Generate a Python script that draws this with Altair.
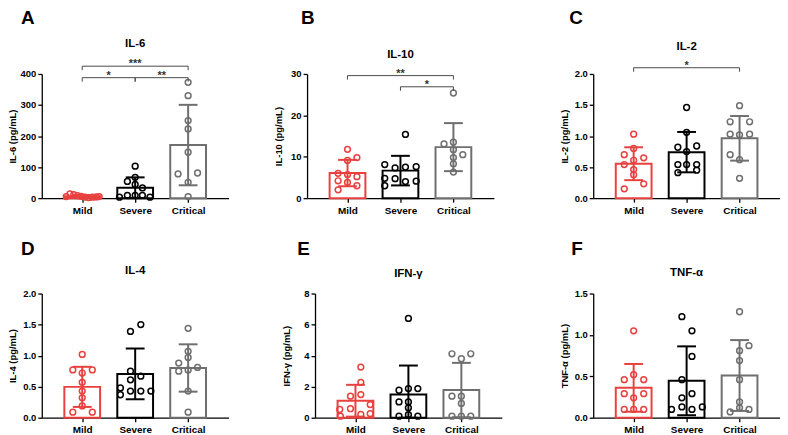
import altair as alt
import pandas as pd

GROUPS = ["Mild", "Severe", "Critical"]
COLORS = ["#E8413F", "#000000", "#6F6F6F"]

# ---- data (pg/mL), one list per group; *_JIT = horizontal dot column index ----
IL6_MILD = [5, 14, 11, 8, 6, 3, 2, 3, 4, 5]
IL6_MILD_JIT = [-1.7, -1.3, -0.9, -0.5, -0.1, 0.3, 0.7, 1.1, 1.5, 1.8]
IL6_SEV = [103, 54, 67, 44, 33, 3, 9, 9, 9, 3]
IL6_SEV_JIT = [0, -0.83, 0, 0, 0.77, -1.67, -0.83, 0, 0.77, 1.57]
IL6_CRIT = [373, 330, 250, 223, 148, 78, 81, 51, 5]
IL6_CRIT_JIT = [0, 0, 0, 0, 0, -1.07, 1.0, 0, 0]

IL10_MILD = [11.8, 9.8, 9.1, 6.0, 5.7, 4.2, 3.8, 5.2, 3.0, 2.0]
IL10_MILD_JIT = [0, 1, 0, -1, 0, -1, 0, 1, 1, -1]
IL10_SEV = [15.4, 8.1, 7.3, 7.5, 7.6, 4.8, 4.7, 3.0, 4.0, 4.1]
IL10_SEV_JIT = [0.53, -1.67, -0.57, 0.53, 1.67, -1.67, -0.57, -1.67, 0.53, 1.67]
IL10_CRIT = [25.4, 13.1, 13.5, 11.7, 9.8, 10.5, 8.3, 6.3]
IL10_CRIT_JIT = [0, -1, 0, 0, 0, 1, 0, 0]

IL2_MILD = [1.03, 0.80, 0.70, 0.65, 0.54, 0.61, 0.46, 0.375, 0.23, 0.15]
IL2_MILD_JIT = [0, 0, -1, 1.07, -1, 0, 0, 0, 1.07, -1]
IL2_SEV = [1.46, 1.06, 0.82, 0.84, 0.75, 0.54, 0.54, 0.54, 0.41, 0.45]
IL2_SEV_JIT = [0, 0, -0.93, 1.07, 0, -0.93, 0, 1.07, -0.93, 1.07]
IL2_CRIT = [1.49, 1.23, 1.23, 1.03, 1.02, 1.03, 0.70, 0.62, 0.32]
IL2_CRIT_JIT = [0, -1, 1.07, -1, 0, 1.07, -1, 0, 0]

IL4_MILD = [1.02, 0.77, 0.77, 0.72, 0.57, 0.43, 0.32, 0.19, 0.09, 0.09]
IL4_MILD_JIT = [0, -1, 1.07, 0, 0, 0, 0, 0, -1, 1.07]
IL4_SEV = [1.5, 1.39, 0.75, 0.61, 0.67, 0.48, 0.37, 0.43, 0.43, 0.43]
IL4_SEV_JIT = [0.6, -0.5, -0.5, -0.5, 0.6, -1.57, -1.57, -0.5, 0.6, 1.67]
IL4_CRIT = [1.44, 1.07, 0.97, 0.88, 0.77, 0.75, 0.81, 0.43, 0.09]
IL4_CRIT_JIT = [0, 0, 0, -1, 0, -1, 1, 0, 0]

IFN_MILD = [3.26, 2.28, 1.39, 1.49, 0.53, 0.58, 0.85, 0.1, 0.21, 0.26]
IFN_MILD_JIT = [0.57, 0.57, -0.53, 0.57, -1.67, -0.53, 1.57, -1.6, 0.57, 1.57]
IFN_SEV = [6.4, 1.77, 1.88, 1.88, 1.02, 1.02, 0.64, 0.1, 0.2, 0.1]
IFN_SEV_JIT = [0, -1, 0, 1, -1, 0, 0, -1, 0, 1]
IFN_CRIT = [4.12, 4.12, 3.8, 1.39, 1.39, 0.92, 0.1, 0.1, 0.1]
IFN_CRIT_JIT = [-1, 1, 0, -1, 0, 0, -1, 0, 1]

TNF_MILD = [1.05, 0.52, 0.46, 0.46, 0.29, 0.29, 0.24, 0.1, 0.1, 0.1]
TNF_MILD_JIT = [0, 0, -1, 1.07, -1, 1.07, 0, -1, 0, 1.07]
TNF_SEV = [1.22, 1.05, 0.74, 0.46, 0.24, 0.29, 0.1, 0.13, 0.1, 0.13]
TNF_SEV_JIT = [-0.5, 0.57, 0.57, -0.5, -0.5, 0.57, -1.6, -0.5, 0.57, 1.67]
TNF_CRIT = [1.28, 0.87, 0.81, 0.69, 0.46, 0.19, 0.12, 0.07, 0.1]
TNF_CRIT_JIT = [0, 1, 0, 0, 0, 0, 0, -1, 1]

# significance brackets: (from group index, to group index, height, stars)
IL6_BRACKETS = [(0, 2, 425, "***"), (0, 1, 388, "*"), (1, 2, 388, "**")]
IL10_BRACKETS = [(0, 2, 29.6, "**"), (1, 2, 26.9, "*")]
IL2_BRACKETS = [(0, 2, 2.1, "*")]

PANELS = [
    dict(letter="A", title="IL-6", ytitle="IL-6 (pg/mL)", ymax=400, yticks=[0, 100, 200, 300, 400], fmt="d",
         values=[IL6_MILD, IL6_SEV, IL6_CRIT], jit=[IL6_MILD_JIT, IL6_SEV_JIT, IL6_CRIT_JIT], brackets=IL6_BRACKETS),
    dict(letter="B", title="IL-10", ytitle="IL-10 (pg/mL)", ymax=30, yticks=[0, 10, 20, 30], fmt="d",
         values=[IL10_MILD, IL10_SEV, IL10_CRIT], jit=[IL10_MILD_JIT, IL10_SEV_JIT, IL10_CRIT_JIT], brackets=IL10_BRACKETS),
    dict(letter="C", title="IL-2", ytitle="IL-2 (pg/mL)", ymax=2.0, yticks=[0, 0.5, 1.0, 1.5, 2.0], fmt=".1f",
         values=[IL2_MILD, IL2_SEV, IL2_CRIT], jit=[IL2_MILD_JIT, IL2_SEV_JIT, IL2_CRIT_JIT], brackets=IL2_BRACKETS),
    dict(letter="D", title="IL-4", ytitle="IL-4 (pg/mL)", ymax=2.0, yticks=[0, 0.5, 1.0, 1.5, 2.0], fmt=".1f",
         values=[IL4_MILD, IL4_SEV, IL4_CRIT], jit=[IL4_MILD_JIT, IL4_SEV_JIT, IL4_CRIT_JIT], brackets=[]),
    dict(letter="E", title="IFN-γ", ytitle="IFN-γ (pg/mL)", ymax=8, yticks=[0, 2, 4, 6, 8], fmt="d",
         values=[IFN_MILD, IFN_SEV, IFN_CRIT], jit=[IFN_MILD_JIT, IFN_SEV_JIT, IFN_CRIT_JIT], brackets=[]),
    dict(letter="F", title="TNF-α", ytitle="TNF-α (pg/mL)", ymax=1.5, yticks=[0, 0.5, 1.0, 1.5], fmt=".1f",
         values=[TNF_MILD, TNF_SEV, TNF_CRIT], jit=[TNF_MILD_JIT, TNF_SEV_JIT, TNF_CRIT_JIT], brackets=[]),
]

# layout (pixels, relative to each plot area's top-left corner)
LAYOUT = [
    dict(lx=-21, ly=65, ty=30),
    dict(lx=-6, ly=65, ty=19),
    dict(lx=-24, ly=65, ty=27),
    dict(lx=-21, ly=54, ty=23),
    dict(lx=-18, ly=54, ty=20),
    dict(lx=-22, ly=54, ty=21),
]

W, H = 188, 125
XDOM = [-0.67, 2.67]
PX = W / (XDOM[1] - XDOM[0])
JIT = 10 / PX
CAP = 10 / PX
BAR = 36
BRACKET_COLOR = "#4A4A4A"


def panel(cfg, lay):
    rows = []
    for gi, g in enumerate(GROUPS):
        for v, j in zip(cfg["values"][gi], cfg["jit"][gi]):
            rows.append({"group": g, "gi": gi, "value": v, "jit": j})
    df = pd.DataFrame(rows)

    xs = alt.Scale(domain=XDOM, nice=False, zero=False)
    ys = alt.Scale(domain=[0, cfg["ymax"]], nice=False, zero=True)
    xaxis = alt.Axis(values=[0, 1, 2], labelExpr="['Mild','Severe','Critical'][datum.value]",
                     title=None, labelFontSize=10, labelPadding=3)
    yaxis = alt.Axis(values=cfg["yticks"], format=cfg["fmt"], title=cfg["ytitle"],
                     minExtent=23, titlePadding=1)

    def X(f):
        return alt.X(f, scale=xs, axis=xaxis)

    def Y(f):
        return alt.Y(f, scale=ys, axis=yaxis)

    def S():
        return alt.Stroke("group:N", scale=alt.Scale(domain=GROUPS, range=COLORS), legend=None)

    base = alt.Chart(df)
    bars = base.transform_aggregate(
        m="mean(value)", groupby=["group", "gi"]
    ).mark_bar(size=BAR, fill="white", strokeWidth=2).encode(x=X("gi:Q"), y=Y("m:Q"), stroke=S())

    err = base.transform_aggregate(
        m="mean(value)", sd="stdev(value)", groupby=["group", "gi"]
    ).transform_calculate(
        lo="max(0, datum.m - datum.sd)", hi="datum.m + datum.sd",
        c1=f"datum.gi - {CAP}", c2=f"datum.gi + {CAP}",
    )
    vline = err.mark_rule(strokeWidth=2).encode(x=X("gi:Q"), y=Y("lo:Q"), y2="hi:Q", stroke=S())
    cap_hi = err.mark_rule(strokeWidth=2).encode(x=X("c1:Q"), x2="c2:Q", y=Y("hi:Q"), stroke=S())
    cap_lo = err.mark_rule(strokeWidth=2).encode(x=X("c1:Q"), x2="c2:Q", y=Y("lo:Q"), stroke=S())

    pts = base.transform_calculate(xj=f"datum.gi + datum.jit * {JIT}").mark_point(
        filled=False, size=34, strokeWidth=1.5, opacity=1
    ).encode(x=X("xj:Q"), y=Y("value:Q"), stroke=S())

    layers = [bars, vline, cap_hi, cap_lo, pts]

    if cfg["brackets"]:
        bdf = pd.DataFrame(cfg["brackets"], columns=["x1", "x2", "y", "label"])
        bb = alt.Chart(bdf)
        tick = cfg["ymax"] * 4 / H
        hl = bb.mark_rule(strokeWidth=1, color=BRACKET_COLOR).encode(x=X("x1:Q"), x2="x2:Q", y=Y("y:Q"))
        tk = bb.transform_fold(["x1", "x2"], as_=["end", "xe"]).transform_calculate(
            yb=f"datum.y - {tick}"
        ).mark_rule(strokeWidth=1, color=BRACKET_COLOR).encode(x=X("xe:Q"), y=Y("y:Q"), y2="yb:Q")
        st = bb.transform_calculate(xm="(datum.x1 + datum.x2) / 2").mark_text(
            fontSize=11, fontWeight="bold", baseline="alphabetic", dy=1, color="#333333"
        ).encode(x=X("xm:Q"), y=Y("y:Q"), text="label:N")
        layers += [hl, tk, st]

    title = alt.Chart(pd.DataFrame({"t": [cfg["title"]]})).mark_text(
        fontSize=11.5, fontWeight="bold", align="center", baseline="middle", color="black"
    ).encode(text="t:N", x=alt.value(W / 2), y=alt.value(-lay["ty"]))
    letter = alt.Chart(pd.DataFrame({"t": [cfg["letter"]]})).mark_text(
        fontSize=19, fontWeight="bold", align="left", baseline="top", color="black"
    ).encode(text="t:N", x=alt.value(lay["lx"]), y=alt.value(-lay["ly"]))
    layers += [title, letter]

    return alt.layer(*layers).properties(width=W, height=H)


def spacer(w):
    return alt.Chart(pd.DataFrame({"s": [0]})).mark_point(opacity=0).encode(
        x=alt.X("s:Q", axis=None), y=alt.Y("s:Q", axis=None)
    ).properties(width=w, height=H)


p = [panel(c, l) for c, l in zip(PANELS, LAYOUT)]
row1 = alt.hconcat(p[0], spacer(79), p[1], spacer(100), p[2], spacing=0, bounds="flush")
row2 = alt.hconcat(p[3], spacer(87), p[4], spacer(92), p[5], spacing=0, bounds="flush")

chart = alt.vconcat(row1, row2, spacing=25).properties(padding=0).configure(
    font="Liberation Sans"
).configure_view(stroke=None).configure_axis(
    domainColor="black", domainWidth=1.3, tickColor="black", tickWidth=1.3, tickSize=4,
    labelColor="black", labelFontWeight="bold", labelFontSize=9.5, labelPadding=2,
    titleColor="black", titleFontWeight="bold", titleFontSize=9.5, grid=False,
)

chart.save("out.html", embed_options={"renderer": "svg", "actions": False})
